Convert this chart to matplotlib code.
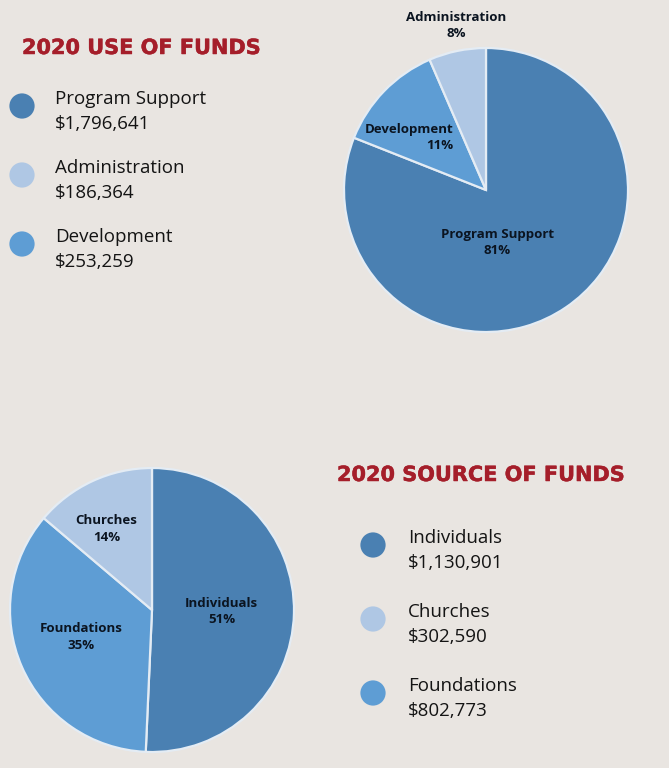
import matplotlib
matplotlib.use('Agg')
import matplotlib.pyplot as plt
import matplotlib.patheffects as pe

# data
use_labels = ['Program Support', 'Administration', 'Development']
use_amount_text = ['$1,796,641', '$186,364', '$253,259']
use_share = [81, 6.5, 12.5]        # slice sizes as drawn
use_pct_text = ['81%', '8%', '11%']  # percentages as printed

source_labels = ['Individuals', 'Churches', 'Foundations']
source_amount_text = ['$1,130,901', '$302,590', '$802,773']
source_share = [50.7, 13.8, 35.5]
source_pct_text = ['51%', '14%', '35%']

# colours
c_dark = '#4a80b2'
c_light = '#afc7e4'
c_mid = '#5e9dd4'
slice_colors = [c_dark, c_light, c_mid]
bg = '#e9e5e1'
red = '#a51e2a'
ink = '#141414'

W, H = 669, 768
fig = plt.figure(figsize=(W / 100, H / 100), dpi=100, facecolor=bg)

# full figure axes in pixel coordinates for the text blocks
bg_ax = fig.add_axes([0, 0, 1, 1])
bg_ax.set_xlim(0, W)
bg_ax.set_ylim(H, 0)
bg_ax.axis('off')


def legend_block(ax, title, title_xy, labels, amounts, x_dot, x_text, y0, dy):
    ax.text(title_xy[0], title_xy[1], title, color=red, fontsize=15,
            fontweight='bold', family='DejaVu Sans', va='center', ha='left',
            path_effects=[pe.withStroke(linewidth=0.35, foreground=red)])
    for i, (lab, amt) in enumerate(zip(labels, amounts)):
        y = y0 + i * dy
        ax.scatter([x_dot], [y + 2], s=330, color=slice_colors[i], edgecolors='none')
        ax.text(x_text, y - 5, lab, fontsize=13.5, family='Open Sans', color=ink,
                va='center', ha='left')
        ax.text(x_text, y + 20, amt, fontsize=13.5, family='Open Sans', color=ink,
                va='center', ha='left')


legend_block(bg_ax, '2020 USE OF FUNDS', (22, 48), use_labels, use_amount_text,
             22, 55, 104, 69)
legend_block(bg_ax, '2020 SOURCE OF FUNDS', (337, 475), source_labels, source_amount_text,
             373, 408, 543, 74)


def pie_axes(cx, cy, r):
    return fig.add_axes([(cx - r) / W, 1 - (cy + r) / H, 2 * r / W, 2 * r / H])


def draw_pie(ax, shares, labels, pcts, order, spots):
    ax.pie([shares[i] for i in order], colors=[slice_colors[i] for i in order],
           startangle=90, counterclock=False, radius=1,
           wedgeprops=dict(edgecolor='#e4ecf4', linewidth=1.6))
    for i, (x, y, ha) in spots.items():
        ax.text(x, y, f'{labels[i]}\n{pcts[i]}', fontsize=9.5, fontweight='bold',
                family='Open Sans', color='#0b1420', ha=ha, va='center',
                multialignment=ha, linespacing=1.35)
    ax.set_xlim(-1, 1)
    ax.set_ylim(-1, 1)
    ax.set_aspect('equal')
    ax.axis('off')


ax1 = pie_axes(486, 190, 142)
# clockwise from the top: Program Support, Development, Administration
draw_pie(ax1, use_share, use_labels, use_pct_text, [0, 2, 1],
         {0: (0.08, -0.37, 'center'), 2: (-0.23, 0.37, 'right'), 1: (-0.21, 1.16, 'center')})

ax2 = pie_axes(152, 610, 142)
# clockwise from the top: Individuals, Foundations, Churches
draw_pie(ax2, source_share, source_labels, source_pct_text, [0, 2, 1],
         {0: (0.49, -0.01, 'center'), 2: (-0.5, -0.19, 'center'), 1: (-0.32, 0.57, 'center')})

fig.savefig('out.png', dpi=100, facecolor=bg)
